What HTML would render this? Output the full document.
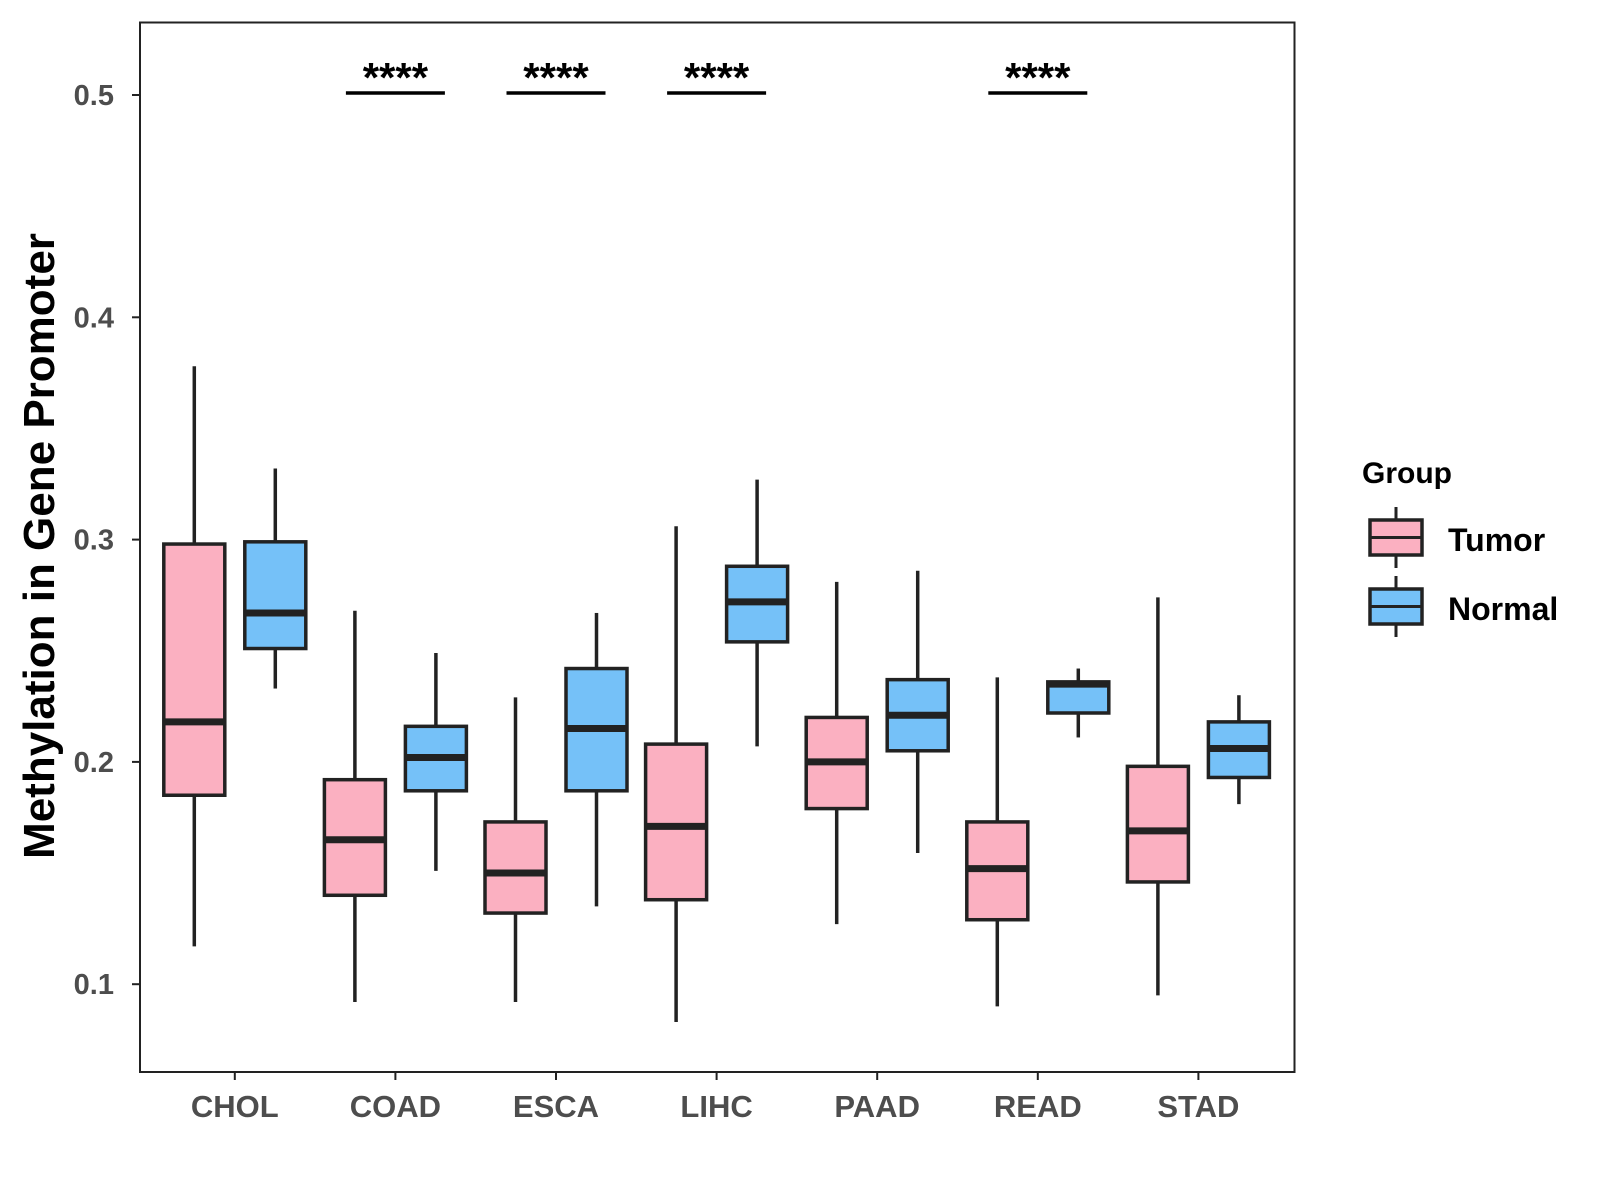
<!DOCTYPE html>
<html><head><meta charset="utf-8"><style>
body{margin:0;background:#fff}
svg{display:block;font-family:"Liberation Sans",Arial,sans-serif;font-weight:bold}
</style></head><body>
<svg id="chart" width="1600" height="1200" viewBox="0 0 1600 1200" xmlns="http://www.w3.org/2000/svg">
<rect x="140" y="22.5" width="1154.5" height="1049.5" fill="#fff" stroke="#222" stroke-width="2"/>
<g id="marks"></g>
<text transform="translate(54,546) rotate(-90)" text-anchor="middle" font-size="44" fill="#000">Methylation in Gene Promoter</text>
<g>
<text x="1362" y="483" font-size="30" fill="#000">Group</text>
<g>
<line x1="1396" y1="507" x2="1396" y2="568" stroke="#222" stroke-width="3"/>
<rect x="1370" y="520" width="52" height="35" fill="#FBB0C1" stroke="#222" stroke-width="3.5"/>
<line x1="1370" y1="537.5" x2="1422" y2="537.5" stroke="#222" stroke-width="3"/>
<text x="1448" y="551" font-size="32" fill="#000">Tumor</text>
</g>
<g>
<line x1="1396" y1="576" x2="1396" y2="637" stroke="#222" stroke-width="3"/>
<rect x="1370" y="589" width="52" height="35" fill="#75C1F8" stroke="#222" stroke-width="3.5"/>
<line x1="1370" y1="606.5" x2="1422" y2="606.5" stroke="#222" stroke-width="3"/>
<text x="1448" y="620" font-size="32" fill="#000">Normal</text>
</g>
</g>
</svg>
<script>
const categories=["CHOL","COAD","ESCA","LIHC","PAAD","READ","STAD"];
const tumorMin=[0.117,0.092,0.092,0.083,0.127,0.090,0.095];
const tumorQ1=[0.185,0.140,0.132,0.138,0.179,0.129,0.146];
const tumorMed=[0.218,0.165,0.150,0.171,0.200,0.152,0.169];
const tumorQ3=[0.298,0.192,0.173,0.208,0.220,0.173,0.198];
const tumorMax=[0.378,0.268,0.229,0.306,0.281,0.238,0.274];
const normalMin=[0.233,0.151,0.135,0.207,0.159,0.211,0.181];
const normalQ1=[0.251,0.187,0.187,0.254,0.205,0.222,0.193];
const normalMed=[0.267,0.202,0.215,0.272,0.221,0.235,0.206];
const normalQ3=[0.299,0.216,0.242,0.288,0.237,0.236,0.218];
const normalMax=[0.332,0.249,0.267,0.327,0.286,0.242,0.230];
const yTicks=[0.1,0.2,0.3,0.4,0.5];
const sigCats=["COAD","ESCA","LIHC","READ"];
const sigLabels=["****","****","****","****"];
const sigLevel=0.5;

const NS="http://www.w3.org/2000/svg";
const g=document.getElementById('marks');
function y(v){return 984.2-(v-0.1)*2223;}
function x(i){return 234.8+160.6*i;}
function mk(tag,attrs,parent){const e=document.createElementNS(NS,tag);for(const k in attrs)e.setAttribute(k,attrs[k]);(parent||g).appendChild(e);return e;}

yTicks.forEach(t=>{
  const tk=mk('line',{x1:132,x2:140,y1:y(t),y2:y(t),stroke:'#222','stroke-width':2});
  
  
  const lb=mk('text',{x:114,y:y(t)+10,'text-anchor':'end','font-size':29,fill:'#4d4d4d'});
  
  
  lb.textContent=t.toFixed(1);
});
categories.forEach((c,i)=>{
  const tk=mk('line',{x1:x(i),x2:x(i),y1:1072,y2:1080,stroke:'#222','stroke-width':2});
  
  
  const lb=mk('text',{x:x(i),y:1117,'text-anchor':'middle','font-size':31,fill:'#4d4d4d'});
  
  
  lb.textContent=c;
});
function box(cx,mn,q1,md,q3,mx,fill,name){
  const grp=mk('g',{});
  
  
  mk('line',{x1:cx,x2:cx,y1:y(mx),y2:y(q3),stroke:'#222','stroke-width':3.5},grp);
  mk('line',{x1:cx,x2:cx,y1:y(q1),y2:y(mn),stroke:'#222','stroke-width':3.5},grp);
  mk('rect',{x:cx-30.5,y:y(q3),width:61,height:y(q1)-y(q3),fill:fill,stroke:'#222','stroke-width':3.5},grp);
  mk('line',{x1:cx-30.5,x2:cx+30.5,y1:y(md),y2:y(md),stroke:'#222','stroke-width':7},grp);
}
categories.forEach((c,i)=>{
  box(x(i)-40.5,tumorMin[i],tumorQ1[i],tumorMed[i],tumorQ3[i],tumorMax[i],'#FBB0C1','box-tumor-'+c.toLowerCase());
  box(x(i)+40.5,normalMin[i],normalQ1[i],normalMed[i],normalQ3[i],normalMax[i],'#75C1F8','box-normal-'+c.toLowerCase());
});
sigCats.forEach((c,k)=>{
  const i=categories.indexOf(c);
  const ln=mk('line',{x1:x(i)-49.5,x2:x(i)+49.5,y1:y(sigLevel)-2,y2:y(sigLevel)-2,stroke:'#000','stroke-width':3.5});
  
  
  const t=mk('text',{x:x(i),y:y(sigLevel)-3,'text-anchor':'middle','font-size':42,fill:'#000'});
  
  
  t.textContent=sigLabels[k];
});
</script>
</body></html>
